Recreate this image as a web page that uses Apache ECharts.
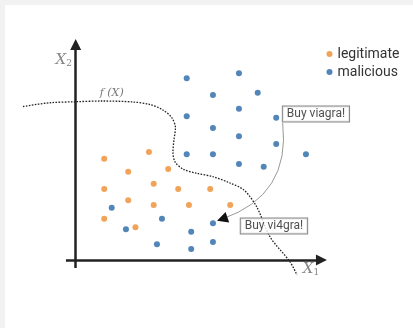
<!DOCTYPE html>
<html>
<head>
<meta charset="UTF-8">
<title>legitimate vs malicious</title>
<script src="https://cdn.jsdelivr.net/npm/echarts@6/dist/echarts.min.js"></script>
<style>
  body { margin: 0; background: #f2f2f2; }
  #chart { position: absolute; left: 5px; top: 5px; width: 408px; height: 323px; background: #fff; }
</style>
</head>
<body>
<div id="chart"></div>
<script type="text/javascript">
// points, axis units (origin where the arrows cross)
var legitimate = [
  [1.14, 4.05], [2.93, 4.32], [2.10, 3.53], [3.70, 3.64], [1.14, 2.84],
  [3.12, 3.05], [4.10, 2.84], [5.38, 2.84], [2.10, 2.39], [3.12, 2.20],
  [4.53, 2.20], [6.18, 2.20], [1.14, 1.65], [2.39, 1.31]
];
var malicious = [
  [4.44, 7.27], [6.53, 7.47], [5.49, 6.60], [7.28, 6.69], [6.53, 6.05],
  [4.44, 5.75], [8.02, 5.69], [5.49, 5.28], [6.53, 4.95], [8.02, 4.64],
  [4.44, 4.23], [5.49, 4.23], [9.21, 4.23], [6.53, 3.84], [7.52, 3.73],
  [1.44, 2.09], [3.45, 1.65], [2.01, 1.23], [4.62, 1.13], [5.49, 1.47],
  [3.25, 0.63], [4.62, 0.44], [5.49, 0.72]
];
// dotted decision boundary f(X)
var boundary = [
  [-2.11, 6.14], [-1.03, 6.29], [0, 6.33], [1.09, 6.36], [2.29, 6.32],
  [2.97, 6.22], [3.49, 6.00], [3.85, 5.68], [3.99, 5.28], [3.93, 4.80],
  [3.89, 4.32], [3.97, 3.93], [4.30, 3.63], [4.84, 3.47], [5.50, 3.33],
  [6.17, 3.08], [6.73, 2.80], [7.24, 2.13], [7.77, 0.93], [8.57, -0.07],
  [8.85, -0.60]
];
var axisX1 = [[-0.39, 0], [9.83, 0]];
var axisX2 = [[0, -0.32], [0, 8.62]];
var evasion = [[8.28, 5.48], [5.86, 1.64]];
var notes = [[9.61, 5.84, 'Buy viagra!'], [7.93, 1.36, 'Buy vi4gra!']];
var axisNames = [[-0.48, 8.0, '{x|X}{s|2}'], [9.41, -0.38, '{x|X}{s|1}'], [1.44, 6.66, '{f|f (X)}']];

var chart = echarts.init(document.getElementById('chart'));

chart.setOption({
  animation: false,
  textStyle: { fontFamily: 'Roboto' },
  legend: {
    data: ['legitimate', 'malicious'],
    orient: 'vertical',
    left: 321.5,
    top: 41,
    padding: 0,
    itemGap: 2,
    itemWidth: 6,
    itemHeight: 6,
    icon: 'circle',
    textStyle: { fontSize: 14, lineHeight: 16, color: '#333', fontFamily: 'Roboto' }
  },
  grid: { left: 0.7, top: 5, width: 405, height: 275 },
  xAxis: { type: 'value', min: -2.8, max: 13.4, show: false },
  yAxis: { type: 'value', min: -1, max: 10, show: false },
  series: [
    {
      name: 'boundary',
      type: 'line',
      data: boundary,
      smooth: 0.3,
      symbol: 'none',
      lineStyle: { color: '#222', width: 1.3, type: [1.6, 1.4] },
      z: 1
    },
    {
      name: 'axes',
      type: 'lines',
      coordinateSystem: 'cartesian2d',
      symbol: ['none', 'triangle'],
      symbolSize: 11,
      lineStyle: { color: '#222', width: 2.5, opacity: 1 },
      data: [{ coords: axisX1 }, { coords: axisX2 }],
      z: 3
    },
    {
      name: 'evasion',
      type: 'lines',
      coordinateSystem: 'cartesian2d',
      symbol: 'none',
      lineStyle: { color: '#999', width: 1, curveness: 0.4, opacity: 1 },
      data: [{ coords: evasion }],
      z: 2
    },
    {
      name: 'evasionHead',
      type: 'lines',
      coordinateSystem: 'cartesian2d',
      symbol: ['none', 'triangle'],
      symbolSize: 11,
      lineStyle: { color: '#111', width: 0, curveness: 0.4, opacity: 1 },
      data: [{ coords: evasion }],
      z: 4
    },
    {
      name: 'legitimate',
      type: 'scatter',
      data: legitimate,
      symbolSize: 6,
      itemStyle: { color: '#ec8c30' },
      z: 3
    },
    {
      name: 'malicious',
      type: 'scatter',
      data: malicious,
      symbolSize: 6,
      itemStyle: { color: '#2766a6' },
      z: 3
    },
    {
      name: 'notes',
      type: 'scatter',
      data: notes,
      symbolSize: 0,
      silent: true,
      label: {
        show: true,
        position: 'inside',
        formatter: function (p) { return p.value[2]; },
        fontFamily: 'Roboto',
        fontSize: 12,
        lineHeight: 13,
        color: '#222',
        backgroundColor: '#fff',
        borderColor: '#666',
        borderWidth: 1,
        padding: [1, 4, 1, 4]
      },
      z: 6
    },
    {
      name: 'names',
      type: 'scatter',
      data: axisNames,
      symbolSize: 0,
      silent: true,
      label: {
        show: true,
        position: 'inside',
        formatter: function (p) { return p.value[2]; },
        rich: {
          x: { fontFamily: 'DejaVu Serif', fontStyle: 'italic', fontSize: 15, color: '#666', lineHeight: 16 },
          s: { fontFamily: 'DejaVu Serif', fontSize: 9, color: '#666', verticalAlign: 'bottom', lineHeight: 16 },
          f: { fontFamily: 'DejaVu Serif', fontStyle: 'italic', fontSize: 11, color: '#555' }
        }
      },
      z: 6
    }
  ]
});
</script>
</body>
</html>
